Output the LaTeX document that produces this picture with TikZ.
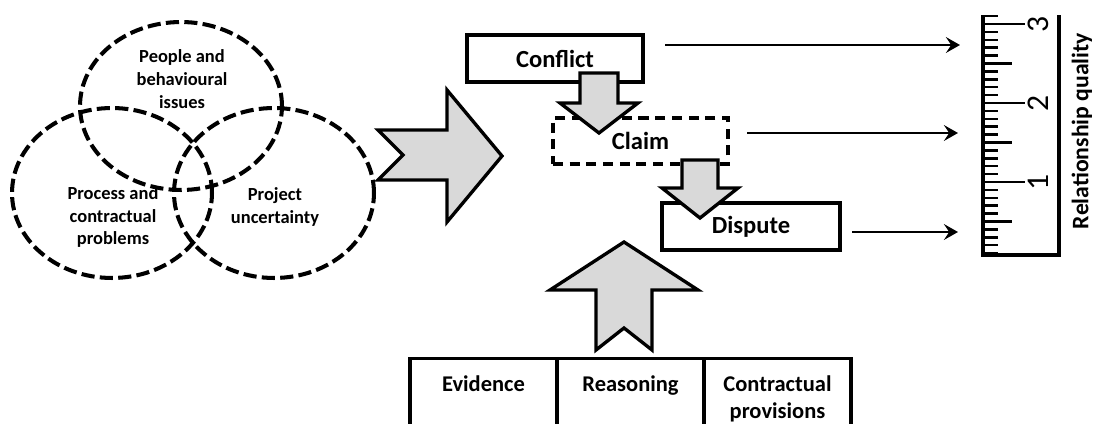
\documentclass[tikz,border=0pt]{standalone}
\usepackage{fontspec}
\setmainfont{Carlito}
\usepackage{tikz}
\usetikzlibrary{positioning, arrows.meta, shapes.geometric}
\definecolor{arrowgray}{RGB}{217, 217, 217}
\tikzset{
  venn/.style={ellipse, draw, line width=2.3pt, dash pattern=on 7.5pt off 3pt, inner sep=0pt},
  venntext/.style={align=center, font=\bfseries\fontsize{10.5}{13}\selectfont},
  stagebox/.style={draw, line width=1.9pt, minimum width=3.52cm, minimum height=0.94cm,
                   font=\bfseries\fontsize{14}{16}\selectfont},
  blockarrow/.style={draw, line width=1.9pt, fill=arrowgray, line join=miter},
  cell/.style={draw, line width=1.9pt, minimum width=2.94cm, minimum height=2cm, anchor=north},
  celltext/.style={align=center, font=\bfseries\fontsize{12.8}{15.5}\selectfont, inner sep=0pt, anchor=north},
  relarrow/.style={->, line width=1.7pt},
  rulertick/.style={line width=1.4pt}
}

\begin{document}
\begin{tikzpicture}[x=0.02cm, y=-0.02cm, >={Stealth[length=8pt, width=9pt, inset=3pt]}]
  \useasboundingbox (0,0) rectangle (1096,423);
  % Sources of conflict
  \node[venn, minimum width=4.04cm, minimum height=3.36cm] (people) at (181,106) {};
  \node[venn, minimum width=4cm, minimum height=3.4cm] (process) at (112,193) {};
  \node[venn, minimum width=4cm, minimum height=3.4cm] (project) at (274,193) {};
  \node[venntext] (peopletxt) at (182,79) {People and\\behavioural\\issues};
  \node[venntext] (processtxt) at (113,217) {Process and\\contractual\\problems};
  \node[venntext] (projecttxt) at (275,207) {Project\\uncertainty};
  % Big arrow
  \draw[blockarrow] (378,130) -- (447,130) -- (447,90) -- (502,156) -- (447,222)
        -- (447,180) -- (378,180) -- (403,155) -- cycle;
  % Stages
  \node[stagebox] (conflict) at (555,58.5) {Conflict};
  \node[stagebox, dash pattern=on 5.7pt off 3.8pt, minimum width=3.5cm, minimum height=0.92cm]
        (claim) at (640.5,141) {Claim};
  \node[stagebox, minimum width=3.56cm] (dispute) at (751,226.5) {Dispute};
  \draw[blockarrow] (580,73) -- (618,73) -- (618,103) -- (638,103) -- (599,133)
        -- (560,103) -- (580,103) -- cycle;
  \draw[blockarrow] (682,160) -- (718,160) -- (718,188) -- (738,188) -- (700,218)
        -- (662,188) -- (682,188) -- cycle;
  % Resolution
  \node[cell] (evid) at (483.5,357) {};
  \node[cell] (reas) at (630.5,357) {};
  \node[cell] (prov) at (777.5,357) {};
  \node[celltext, below=0.36cm of evid.north] (evidtxt) {Evidence};
  \node[celltext, below=0.36cm of reas.north] (reastxt) {Reasoning};
  \node[celltext, below=0.36cm of prov.north] (provtxt) {Contractual\\provisions};
  \draw[blockarrow] (624,242) -- (698,290) -- (652,290) -- (652,350) -- (624,328)
        -- (596,350) -- (596,290) -- (550,290) -- cycle;
  % Relationship quality
  \coordinate (c1) at (665,45);  \coordinate (r1) at (960,45);
  \coordinate (c2) at (747,133); \coordinate (r2) at (958,133);
  \coordinate (c3) at (852,232); \coordinate (r3) at (958,232);
  \draw[relarrow] (c1) -- (r1);
  \draw[relarrow] (c2) -- (r2);
  \draw[relarrow] (c3) -- (r3);
  \draw[line width=1.8pt] (983,15) -- (983,255) -- (1059,255) -- (1059,15);
  \foreach \k in {-1,...,29}
    \draw[rulertick] (983,24+7.9*\k) -- (998,24+7.9*\k);
  \foreach \k in {5,15,25}
    \draw[rulertick] (983,24+7.9*\k) -- (1012,24+7.9*\k);
  \foreach \v/\k in {3/0, 2/10, 1/20}{
    \draw[rulertick] (983,24+7.9*\k) -- (1025,24+7.9*\k);
    \node[rotate=90, font=\fontsize{18}{18}\selectfont] (num\v) at (1038,24+7.9*\k) {\v};
  }
  \node[rotate=90, font=\bfseries\fontsize{13.5}{16}\selectfont] (rq) at (1082,131) {Relationship quality};
\end{tikzpicture}
\end{document}
